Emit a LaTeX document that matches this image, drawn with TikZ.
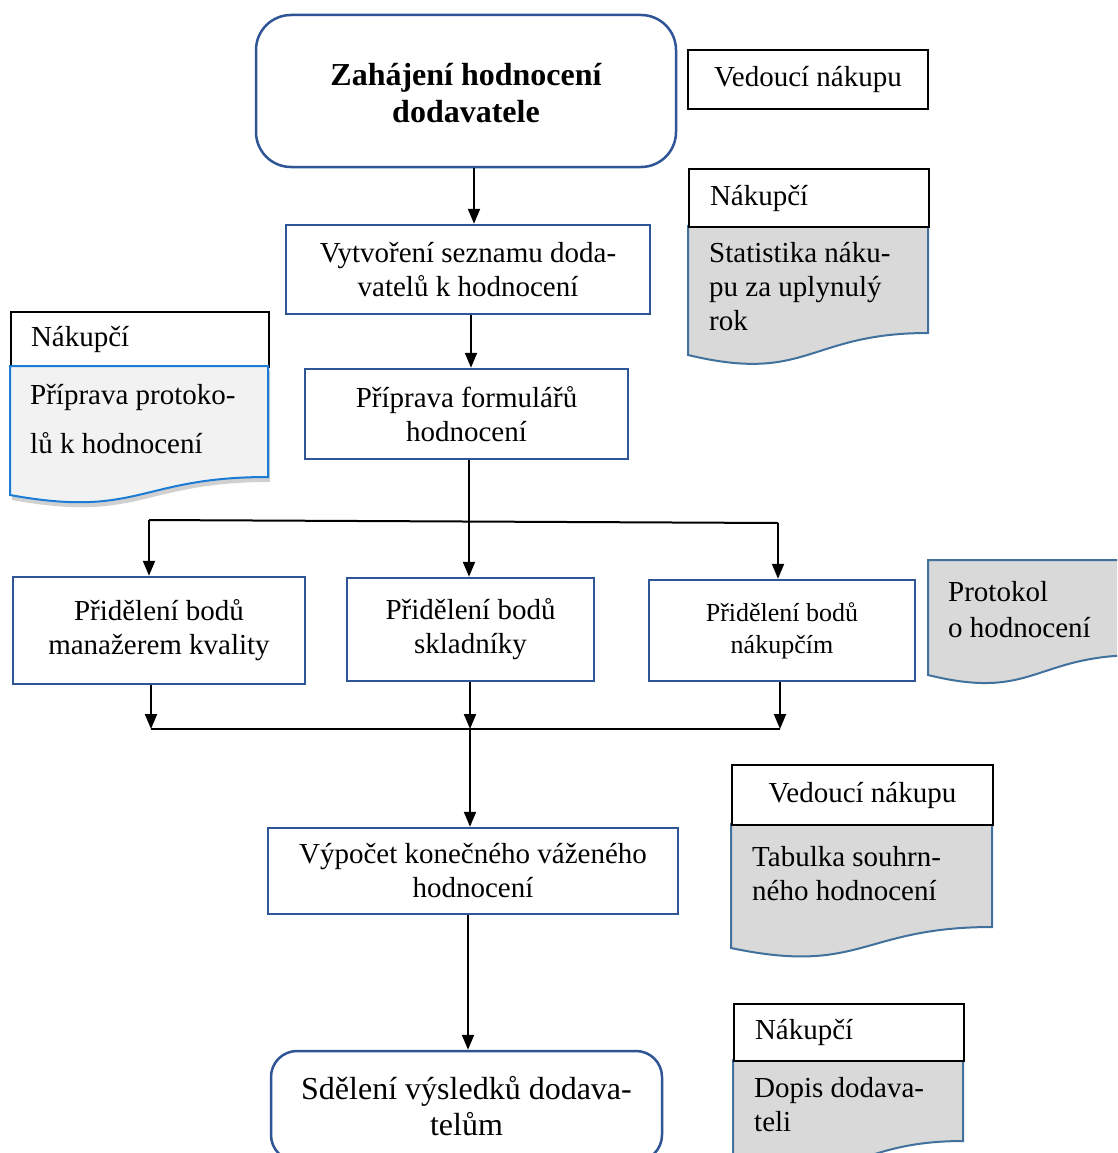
\documentclass[tikz,border=0pt]{standalone}
\usepackage{fontspec}
\setmainfont{Liberation Serif}
\usetikzlibrary{arrows.meta,shadows}

\definecolor{boxblue}{HTML}{2F5597}
\definecolor{docblue}{HTML}{41719C}
\definecolor{brightblue}{HTML}{1C7CD5}
\definecolor{docgray}{HTML}{D9D9D9}
\definecolor{docpale}{HTML}{F2F2F2}

\newcommand\txtfont{\fontsize{29}{34}\selectfont}

% document body: style, left x, right x, top y, left bottom y, right bottom y
\newcommand\docbody[6]{%
  \path[#1] (#2,#4) -- (#3,#4) -- (#3,#6)
    .. controls ({(#2+#3)/2},#6) and ({(#2+#3)/2},{#5+1.31*(#5-#6)}) .. (#2,#5) -- cycle;}

\tikzset{
  base/.style={font=\txtfont, inner sep=0pt, text=black},
  flow/.style={base, draw=boxblue, line width=2.5pt, fill=white, align=center},
  terminal/.style={flow, rounded corners=#1},
  hdr/.style={base, draw=black, line width=2pt, fill=white},
  hdrleft/.style={hdr, align=left, inner xsep=21pt},
  doctext/.style={base, anchor=north west, align=left},
  graydoc/.style={fill=docgray, draw=docblue, line width=2pt},
  paledoc/.style={fill=docpale, draw=brightblue, line width=2pt,
    drop shadow={shadow xshift=2pt, shadow yshift=-5pt, opacity=0.3, fill=black!60}},
  arr/.style={line width=2pt, -{Triangle[length=15pt,width=12pt]}},
  link/.style={line width=2pt},
}

\begin{document}
\begin{tikzpicture}[x=1pt, y=-1pt]
\useasboundingbox (0,0) rectangle (1117,1153);
\clip (0,0) rectangle (1117,1153);
\fill[white] (0,0) rectangle (1117,1153);

% ---- main flow ----
\node[terminal=35pt, minimum width=420pt, minimum height=152pt,
      font=\fontsize{32}{37}\selectfont\bfseries] (start) at (466,91)
      {\strut Zahájení hodnocení\\dodavatele};
\node[flow, minimum width=364pt, minimum height=89pt] (b1) at (468,269.5)
      {Vytvoření seznamu doda-\\vatelů k hodnocení};
\node[flow, minimum width=323pt, minimum height=90pt] (b2) at (466.5,414)
      {Příprava formulářů\\hodnocení};
\node[flow, minimum width=292pt, minimum height=107pt] (pA) at (159,630.5)
      {Přidělení bodů\\manažerem kvality};
\node[flow, minimum width=247pt, minimum height=103pt] (pB) at (470.5,629.5)
      {Přidělení bodů\\skladníky};
\node[flow, minimum width=266pt, minimum height=101pt,
      font=\fontsize{26}{32}\selectfont] (pC) at (782,630.5)
      {Přidělení bodů\\nákupčím};
\node[flow, minimum width=410pt, minimum height=86pt] (calc) at (473,871)
      {Výpočet konečného váženého\\hodnocení};
\node[terminal=26pt, minimum width=391pt, minimum height=110pt,
      font=\fontsize{32}{36}\selectfont] (notify) at (466.5,1106)
      {Sdělení výsledků dodava-\\telům};

% ---- connectors ----
\coordinate (c1) at (474,0);
\coordinate (c2) at (471,0);
\coordinate (j)  at (469,520);
\coordinate (jl) at (149,520);
\coordinate (jr) at (778,523);
\coordinate (ma) at (151,729);
\coordinate (mb) at (470,729);
\coordinate (mc) at (780,729);
\coordinate (c5) at (468,0);

\draw[arr] (start.south -| c1) -- (b1.north -| c1);
\draw[arr] (b1.south -| c2) -- (b2.north -| c2);
\draw[link] (b2.south -| j) -- (j);
\draw[link] (jl) -- (jr);
\draw[arr] (jl) -- (pA.north -| jl);
\draw[arr] (j) -- (pB.north -| j);
\draw[arr] (jr) -- (pC.north -| jr);
\draw[arr] (pA.south -| ma) -- (ma);
\draw[arr] (pB.south -| mb) -- (mb);
\draw[arr] (pC.south -| mc) -- (mc);
\draw[link] (ma) -- (mc);
\draw[arr] (mb) -- (calc.north -| mb);
\draw[arr] (calc.south -| c5) -- (notify.north -| c5);

% ---- roles and documents ----
\node[hdr, minimum width=240pt, minimum height=59pt] (lead1) at (808,79.5) {Vedoucí nákupu};

% purchase statistics
\docbody{graydoc}{688}{928}{226}{355}{333}
\node[hdrleft, anchor=north west, text width=198pt, minimum height=58pt] (buyer1) at (688,168) {Nákupčí};
\node[doctext] (stat) at (709,242) {Statistika náku-\\pu za uplynulý\\rok};

% protocol preparation
\node[hdrleft, anchor=north west, text width=218pt, inner xsep=20pt, minimum height=55pt] (buyer2) at (10,311) {Nákupčí};
\docbody{paledoc}{10}{268}{366}{495}{477}
\node[doctext, font=\fontsize{29}{49}\selectfont] (prep) at (30,384) {Příprava protoko-\\lů k hodnocení};

% evaluation protocol
\docbody{graydoc}{928}{1140}{560}{675}{655}
\node[doctext, font=\fontsize{29}{36}\selectfont] (proto) at (948,581) {Protokol\\o hodnocení};

% summary table
\docbody{graydoc}{731}{992}{824}{948}{927}
\node[hdr, anchor=north west, minimum width=261pt, minimum height=60pt] (lead2) at (731,764) {Vedoucí nákupu};
\node[doctext] (table) at (752,846) {Tabulka souhrn-\\ného hodnocení};

% letter to supplier
\docbody{graydoc}{733}{963}{1060}{1163}{1141}
\node[hdrleft, anchor=north west, text width=188pt, minimum height=57pt] (buyer3) at (733,1003) {Nákupčí};
\node[doctext] (letter) at (754,1077) {Dopis dodava-\\teli};
\end{tikzpicture}
\end{document}
